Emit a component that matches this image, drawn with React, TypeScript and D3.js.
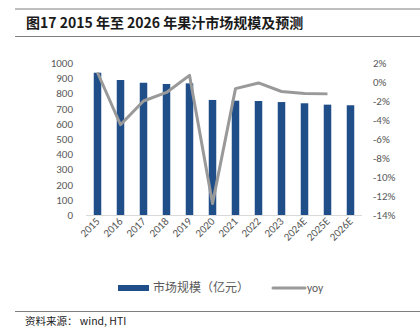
import React from "react";
import * as d3 from "d3";

const categories = ["2015", "2016", "2017", "2018", "2019", "2020", "2021", "2022", "2023", "2024E", "2025E", "2026E"];
const marketSize = [936, 888, 870, 862, 866, 757, 752, 750, 743, 735, 726, 722];
const yoy: (number | null)[] = [1.0, -4.5, -2.0, -1.1, 0.7, -12.8, -0.7, -0.1, -1.0, -1.2, -1.25, null];
const leftTicks = [0, 100, 200, 300, 400, 500, 600, 700, 800, 900, 1000];
const rightTicks = [2, 0, -2, -4, -6, -8, -10, -12, -14];

const W = 420;
const H = 332;
const FONT = "'Noto Sans CJK SC', 'Noto Sans', sans-serif";
const LAT = "Calibri, 'Liberation Sans', 'Noto Sans', sans-serif";

export default function App() {
  const x = d3.scaleBand<string>().domain(categories).range([86, 362]);
  const yL = d3.scaleLinear().domain([0, 1000]).range([215, 63]);
  const yR = d3.scaleLinear().domain([-14, 2]).range([215, 63]);
  const barW = 7.5;
  const cx = (c: string) => (x(c) as number) + x.bandwidth() / 2;

  const line = d3
    .line<{ c: string; v: number | null }>()
    .defined((d) => d.v !== null)
    .x((d) => cx(d.c))
    .y((d) => yR(d.v as number));
  const lineData = categories.map((c, i) => ({ c, v: yoy[i] }));

  return (
    <svg width={W} height={H} style={{ position: "absolute", left: 0, top: 0, background: "#fff" }}>
      <line x1={15} x2={420} y1={9} y2={9} stroke="#7f7f7f" strokeWidth={1} />
      <line x1={15} x2={420} y1={36.5} y2={36.5} stroke="#7f7f7f" strokeWidth={1} />
      <text x={26} y={28} fontFamily={FONT} fontWeight="bold" fontSize={14} fill="#1a1a1a">
        图17 2015 年至 2026 年果汁市场规模及预测
      </text>

      {leftTicks.map((t) => (
        <text key={"l" + t} x={73} y={yL(t) + 4} textAnchor="end" fontFamily={LAT} fontSize={11} fill="#595959">
          {t}
        </text>
      ))}
      {rightTicks.map((t) => (
        <text key={"r" + t} x={373} y={yR(t) + 4} textAnchor="start" fontFamily={LAT} fontSize={11} fill="#595959">
          {t + "%"}
        </text>
      ))}

      {categories.map((c, i) => (
        <rect key={c} x={cx(c) - barW / 2} y={yL(marketSize[i])} width={barW} height={yL(0) - yL(marketSize[i])} fill="#1F4E89" />
      ))}
      <line x1={86} x2={362} y1={215.5} y2={215.5} stroke="#d9d9d9" strokeWidth={1} />

      <path d={line(lineData) || ""} fill="none" stroke="#999999" strokeWidth={3} strokeLinejoin="round" />

      {categories.map((c) => (
        <text
          key={"x" + c}
          transform={`translate(${cx(c) + 3},${222}) rotate(-45)`}
          textAnchor="end"
          fontFamily={LAT}
          fontSize={11}
          fill="#595959"
        >
          {c}
        </text>
      ))}

      <rect x={118} y={285} width={31} height={6} fill="#1F4E89" />
      <text x={153} y={292} fontFamily={FONT} fontSize={12} fill="#595959">
        市场规模（亿元）
      </text>
      <line x1={273} x2={305} y1={288} y2={288} stroke="#999999" strokeWidth={3} strokeLinecap="round" />
      <text x={307} y={292} fontFamily={LAT} fontSize={11.5} fill="#595959">
        yoy
      </text>

      <line x1={15} x2={420} y1={311.5} y2={311.5} stroke="#7f7f7f" strokeWidth={1} />
      <text x={25} y={325} fontFamily={FONT} fontSize={10.5} fill="#1a1a1a">
        资料来源： wind, HTI
      </text>
    </svg>
  );
}
